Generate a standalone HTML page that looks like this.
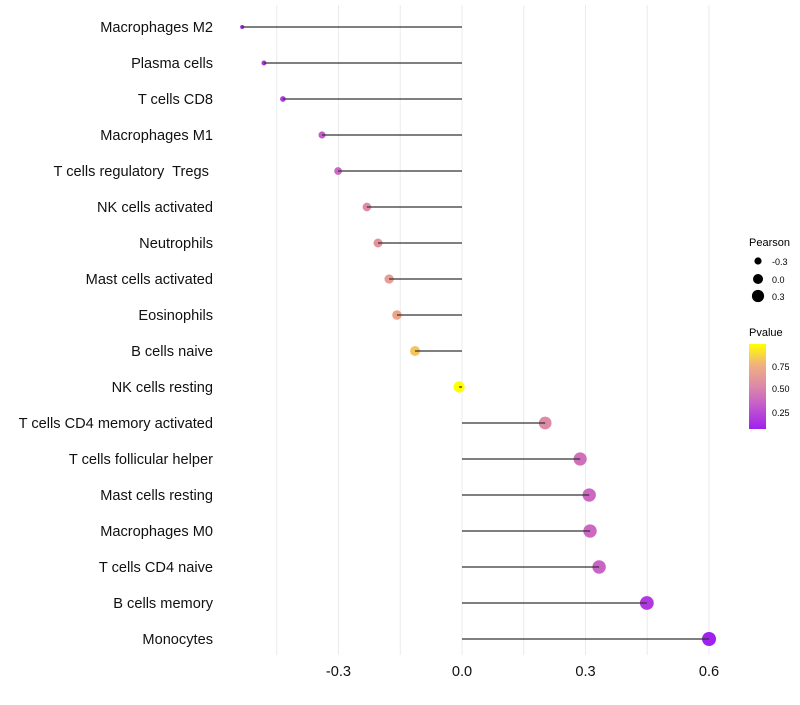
<!DOCTYPE html>
<html><head><meta charset="utf-8"><style>
body{margin:0;background:#fff;font-family:"Liberation Sans",sans-serif}
</style></head><body>
<svg id="chart" width="800" height="700" xmlns="http://www.w3.org/2000/svg" font-family="Liberation Sans, sans-serif">
<defs><linearGradient id="pg" x1="0" y1="1" x2="0" y2="0">
<stop offset="0" stop-color="#a020f0"/><stop offset="0.3" stop-color="#c860c8"/><stop offset="0.5" stop-color="#dc88a8"/><stop offset="0.75" stop-color="#f0b080"/><stop offset="1" stop-color="#ffff00"/></linearGradient></defs>
<g id="grid"></g>
<g id="dots"></g>
<g id="marks"></g>
<g id="labels"></g>
<g id="xticks"></g>
<g>
<text x="749" y="246" font-size="11" fill="#000">Pearson</text>
<circle cx="758" cy="261" r="3.6" fill="#000"/>
<text x="772" y="265" font-size="9">-0.3</text>
<circle cx="758" cy="279" r="5" fill="#000"/>
<text x="772" y="283" font-size="9">0.0</text>
<circle cx="758" cy="296" r="6.1" fill="#000"/>
<text x="772" y="300" font-size="9">0.3</text>
</g>
<g>
<text x="749" y="336" font-size="11">Pvalue</text>
<rect x="749" y="344" width="17" height="85" fill="url(#pg)"/>
<text x="772" y="370" font-size="9">0.75</text>
<text x="772" y="392" font-size="9">0.50</text>
<text x="772" y="416" font-size="9">0.25</text>
</g>
</svg>
<script>
const categories=["Macrophages M2","Plasma cells","T cells CD8","Macrophages M1","T cells regulatory  Tregs ","NK cells activated","Neutrophils","Mast cells activated","Eosinophils","B cells naive","NK cells resting","T cells CD4 memory activated","T cells follicular helper","Mast cells resting","Macrophages M0","T cells CD4 naive","B cells memory","Monocytes"];
const pearson=[-0.534,-0.481,-0.435,-0.340,-0.301,-0.231,-0.204,-0.177,-0.158,-0.114,-0.007,0.202,0.287,0.309,0.311,0.333,0.449,0.600];
const pvalues=[0.08,0.14,0.18,0.33,0.38,0.55,0.6,0.65,0.7,0.82,0.99,0.55,0.42,0.38,0.38,0.36,0.18,0.07];
const xTicks=[-0.3,0.0,0.3,0.6];
const xTickLabels=["-0.3","0.0","0.3","0.6"];
const gridVals=[-0.45,-0.3,-0.15,0,0.15,0.3,0.45,0.6];
const NS="http://www.w3.org/2000/svg";
function x(v){return 462+v*411.7;}
function y(i){return 27+i*36;}
function r(p){const t=Math.max(0,(0.6-p)/1.134);return Math.max(1.5,7-5*t*t);}
const stops=[[0,[160,32,240]],[0.3,[200,96,200]],[0.5,[220,136,168]],[0.75,[240,176,128]],[1,[255,255,0]]];
function col(p){const t=Math.max(0,Math.min(1,(p-0.07)/0.92));
for(let k=1;k<stops.length;k++){if(t<=stops[k][0]){const a=stops[k-1],b=stops[k];const u=(t-a[0])/(b[0]-a[0]);
return 'rgb('+a[1].map((c,j)=>Math.round(c+(b[1][j]-c)*u)).join(',')+')';}}return 'rgb(255,255,0)';}
function mk(tag,attrs,parent){const e=document.createElementNS(NS,tag);for(const k in attrs)e.setAttribute(k,attrs[k]);parent.appendChild(e);return e;}
const grid=document.getElementById('grid'),dots=document.getElementById('dots'),marks=document.getElementById('marks'),labels=document.getElementById('labels'),xt=document.getElementById('xticks');
gridVals.forEach(v=>{const l=mk('line',{x1:x(v),x2:x(v),y1:5,y2:655,stroke:'#ebebeb','stroke-width':1},grid);

});
categories.forEach((c,i)=>{
const d=mk('circle',{cx:x(pearson[i]),cy:y(i),r:r(pearson[i]),fill:col(pvalues[i])},dots);


const s=mk('line',{x1:x(0),x2:x(pearson[i]),y1:y(i),y2:y(i),stroke:'#333','stroke-width':1.3},marks);


const t=mk('text',{x:213,y:y(i)+5,'text-anchor':'end','font-size':14.6,fill:'#111'},labels);
t.setAttribute('xml:space','preserve');
t.style.whiteSpace='pre';
t.textContent=c;


});
xTicks.forEach((v,i)=>{const t=mk('text',{x:x(v),y:676,'text-anchor':'middle','font-size':14.6,fill:'#111'},xt);
t.textContent=xTickLabels[i];

});
</script>
</body></html>
